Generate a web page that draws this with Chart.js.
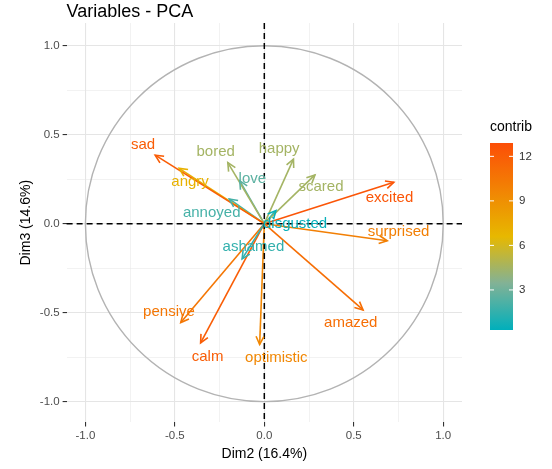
<!DOCTYPE html>
<html><head><meta charset="utf-8">
<script src="https://cdn.jsdelivr.net/npm/chart.js@4"></script>
<style>body{margin:0;background:#fff}</style>
</head><body>
<canvas id="chart" width="552" height="469"></canvas>
<script>
// variable coordinates (Dim2, Dim3) and contributions
const vars=["sad","angry","bored","happy","scared","love","annoyed","disgusted","ashamed","excited","surprised","amazed","pensive","calm","optimistic"];
const dim2=[-0.61,-0.476,-0.204,0.163,0.283,-0.137,-0.196,0.065,-0.124,0.724,0.687,0.552,-0.467,-0.356,-0.026];
const dim3=[0.385,0.311,0.343,0.363,0.274,0.241,0.139,0.074,-0.198,0.233,-0.096,-0.485,-0.556,-0.67,-0.679];
const contrib=[12,7,4.5,4.5,4.5,2.5,2,0.5,1.5,12.5,10,11,10.5,12,9.5];
// label anchors (ggrepel placed)
const labX=[-0.678,-0.415,-0.272,0.083,0.317,-0.067,-0.294,0.172,-0.061,0.70,0.75,0.483,-0.533,-0.317,0.067];
const labY=[0.444,0.237,0.405,0.422,0.205,0.25,0.061,0.0,-0.133,0.144,-0.044,-0.555,-0.494,-0.75,-0.756];
const legendTicks=[3,6,9,12];
const cMin=0.3,cMax=12.9;

const stops=[[0,[0,175,187]],[0.25,[130,178,150]],[0.5,[231,184,0]],[1,[252,78,7]]];
function col(v){
  let t=(v-cMin)/(cMax-cMin);t=Math.max(0,Math.min(1,t));
  let i=0;while(i<stops.length-2&&t>stops[i+1][0])i++;
  let a=stops[i],b=stops[i+1];
  let f=(t-a[0])/(b[0]-a[0]);
  let c=a[1].map((x,k)=>Math.round(x+(b[1][k]-x)*f));
  return `rgb(${c[0]},${c[1]},${c[2]})`;
}

const datasets=vars.map((v,i)=>({
  label:v,
  data:[{x:0,y:0},{x:dim2[i],y:dim3[i]}],
  showLine:true,borderColor:col(contrib[i]),borderWidth:1.6,pointRadius:0
}));

const font="'Liberation Sans', Arial, sans-serif";

const extras={
  id:"extras",
  beforeDatasetsDraw(chart){
    const {ctx,scales:{x,y}}=chart;
    ctx.save();
    ctx.strokeStyle="#b3b3b3";ctx.lineWidth=1.4;
    ctx.beginPath();
    ctx.ellipse(x.getPixelForValue(0),y.getPixelForValue(0),x.getPixelForValue(1)-x.getPixelForValue(0),y.getPixelForValue(0)-y.getPixelForValue(1),0,0,Math.PI*2);
    ctx.stroke();
    ctx.restore();
  },
  afterDatasetsDraw(chart){
    const {ctx,scales:{x,y},chartArea:a}=chart;
    ctx.save();
    // title
    ctx.fillStyle="#000";ctx.font="18px "+font;ctx.textAlign="left";ctx.textBaseline="middle";
    ctx.fillText("Variables - PCA",a.left,12);
    // dashed zero lines
    ctx.strokeStyle="#000";ctx.lineWidth=1.5;ctx.setLineDash([6,4]);
    ctx.beginPath();
    ctx.moveTo(a.left,y.getPixelForValue(0));ctx.lineTo(a.right,y.getPixelForValue(0));
    ctx.moveTo(x.getPixelForValue(0),a.top);ctx.lineTo(x.getPixelForValue(0),a.bottom);
    ctx.stroke();ctx.setLineDash([]);
    // arrowheads + labels
    vars.forEach((v,i)=>{
      const x0=x.getPixelForValue(0),y0=y.getPixelForValue(0);
      const x1=x.getPixelForValue(dim2[i]),y1=y.getPixelForValue(dim3[i]);
      const ang=Math.atan2(y1-y0,x1-x0),L=9;
      ctx.strokeStyle=col(contrib[i]);ctx.lineWidth=1.6;
      ctx.beginPath();
      ctx.moveTo(x1-L*Math.cos(ang-0.45),y1-L*Math.sin(ang-0.45));
      ctx.lineTo(x1,y1);
      ctx.lineTo(x1-L*Math.cos(ang+0.45),y1-L*Math.sin(ang+0.45));
      ctx.stroke();
      ctx.fillStyle=col(contrib[i]);
      ctx.font="15px "+font;ctx.textAlign="center";ctx.textBaseline="middle";
      ctx.fillText(v,x.getPixelForValue(labX[i]),y.getPixelForValue(labY[i]));
    });
    // colour bar legend
    const bx=490,bw=23,top=143,bot=330;
    const g=ctx.createLinearGradient(0,bot,0,top);
    for(let k=0;k<=20;k++){g.addColorStop(k/20,col(cMin+(cMax-cMin)*k/20));}
    ctx.fillStyle=g;ctx.fillRect(bx,top,bw,bot-top);
    ctx.fillStyle="#000";ctx.font="14px "+font;ctx.textAlign="left";
    ctx.fillText("contrib",bx,127);
    ctx.font="11.5px "+font;ctx.fillStyle="#333";
    legendTicks.forEach(t=>{
      const py=bot-(t-cMin)/(cMax-cMin)*(bot-top);
      ctx.strokeStyle="#fff";ctx.lineWidth=1;
      ctx.beginPath();ctx.moveTo(bx,py);ctx.lineTo(bx+4,py);ctx.moveTo(bx+bw-4,py);ctx.lineTo(bx+bw,py);ctx.stroke();
      ctx.fillText(String(t),bx+bw+6,py);
    });
    ctx.restore();
  }
};

function major(v){return Math.abs(v*2-Math.round(v*2))<1e-6;}
function tick(v){return major(v)?v.toFixed(1):"";}
const gridOpts={color:"#e5e5e5",lineWidth:c=>major(c.tick.value)?1.1:0.5,drawTicks:true,tickLength:4,
  tickColor:c=>major(c.tick.value)?"#333":"rgba(0,0,0,0)"};
const tickList=[-1,-0.75,-0.5,-0.25,0,0.25,0.5,0.75,1];

new Chart(document.getElementById("chart"),{
  type:"scatter",
  data:{datasets},
  options:{
    responsive:false,animation:false,
    layout:{padding:{right:90,top:23,left:14,bottom:2}},
    plugins:{legend:{display:false},tooltip:{enabled:false},title:{display:false}},
    scales:{
      x:{min:-1.105,max:1.105,afterBuildTicks(ax){ax.ticks=tickList.map(v=>({value:v}));},
        ticks:{callback:tick,color:"#4d4d4d",font:{family:font,size:11.5},maxRotation:0,autoSkip:false},
        grid:gridOpts,border:{display:false},
        title:{display:true,text:"Dim2 (16.4%)",color:"#000",font:{family:font,size:14},padding:{top:0}}},
      y:{min:-1.117,max:1.128,afterBuildTicks(ax){ax.ticks=tickList.map(v=>({value:v}));},
        ticks:{callback:tick,color:"#4d4d4d",font:{family:font,size:11.5},autoSkip:false},
        grid:gridOpts,border:{display:false},
        title:{display:true,text:"Dim3 (14.6%)",color:"#000",font:{family:font,size:14},padding:{bottom:2}}}
    }
  },
  plugins:[extras]
});
</script>
</body></html>
